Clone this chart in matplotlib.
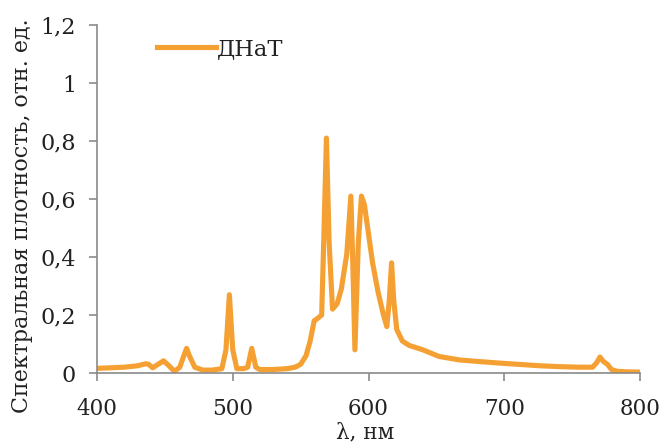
import matplotlib
matplotlib.use("Agg")
import matplotlib.pyplot as plt
from matplotlib.ticker import FuncFormatter

# Data
wavelength = [400, 410, 420, 430, 436, 438, 441, 445, 449, 453, 457, 461, 464, 466, 468,
              472, 478, 485, 492, 495, 497.5, 500, 503, 508, 511, 514, 517, 520, 530,
              540, 546, 550, 554, 557, 560, 563, 565.5, 567, 569, 571, 573.5, 577, 580,
              584, 587, 588.3, 590, 592.5, 594.8, 597, 600, 603, 607, 611, 613.5, 615.3,
              617, 618.6, 620.8, 625, 630, 640, 652, 667, 680, 697, 710, 726, 740, 755,
              765, 768, 770.5, 773, 776, 779, 783, 790, 800]
intensity = [0.016, 0.018, 0.02, 0.025, 0.032, 0.03, 0.018, 0.03, 0.042, 0.025, 0.006,
             0.02, 0.06, 0.085, 0.06, 0.02, 0.01, 0.01, 0.015, 0.08, 0.27, 0.08, 0.015,
             0.015, 0.02, 0.085, 0.02, 0.012, 0.012, 0.015, 0.02, 0.03, 0.06, 0.11,
             0.18, 0.19, 0.2, 0.45, 0.81, 0.45, 0.22, 0.24, 0.29, 0.41, 0.61, 0.4,
             0.08, 0.45, 0.61, 0.58, 0.48, 0.38, 0.28, 0.2, 0.16, 0.25, 0.38, 0.25,
             0.15, 0.11, 0.095, 0.08, 0.057, 0.045, 0.04, 0.034, 0.03, 0.025, 0.022,
             0.02, 0.02, 0.035, 0.055, 0.04, 0.03, 0.012, 0.006, 0.004, 0.003]
series_label = "ДНаТ"
x_ticks = [400, 500, 600, 700, 800]
y_ticks = [0, 0.2, 0.4, 0.6, 0.8, 1.0, 1.2]

plt.rcParams['font.family'] = ['DejaVu Serif']

fig = plt.figure(figsize=(6.61, 4.45), dpi=100)
ax = fig.add_axes([97/661, 1 - 373/445, (640-97)/661, (373-25)/445])

ax.plot(wavelength, intensity, color='#F5A033', lw=3.7, solid_joinstyle='round',
        label=series_label)

ax.set_xlim(400, 800)
ax.set_ylim(0, 1.2)
ax.set_xticks(x_ticks)
ax.set_yticks(y_ticks)

def fmt(v, pos):
    s = ('%g' % round(v, 2)).replace('.', ',')
    return s
ax.yaxis.set_major_formatter(FuncFormatter(fmt))

for s in ['top', 'right']:
    ax.spines[s].set_visible(False)
for s in ['left', 'bottom']:
    ax.spines[s].set_color('#8a8a8a')
    ax.spines[s].set_linewidth(1.2)

ax.tick_params(axis='both', colors='#8a8a8a', length=6, width=1.2, labelcolor='#222222')
ax.tick_params(axis='x', pad=12, labelsize=15.5)
ax.tick_params(axis='y', pad=9, labelsize=16)

ax.set_xlabel('λ, нм', fontsize=15.5, color='#222222')
ax.xaxis.label.set_va('center')
ax.xaxis.set_label_coords((365-97)/543, (373-432)/348)

ax.set_ylabel('Спектральная плотность, отн. ед.', fontsize=15.9, color='#222222')
ax.yaxis.label.set_va('center')
ax.yaxis.set_label_coords((22-97)/543, (373-216)/348)

leg = ax.legend(loc='upper left', bbox_to_anchor=(0.074, 1.022), frameon=False,
                fontsize=16.2, handlelength=2.6, handletextpad=0.05)
for t in leg.get_texts():
    t.set_color('#222222')

fig.savefig('out.png', dpi=100)
